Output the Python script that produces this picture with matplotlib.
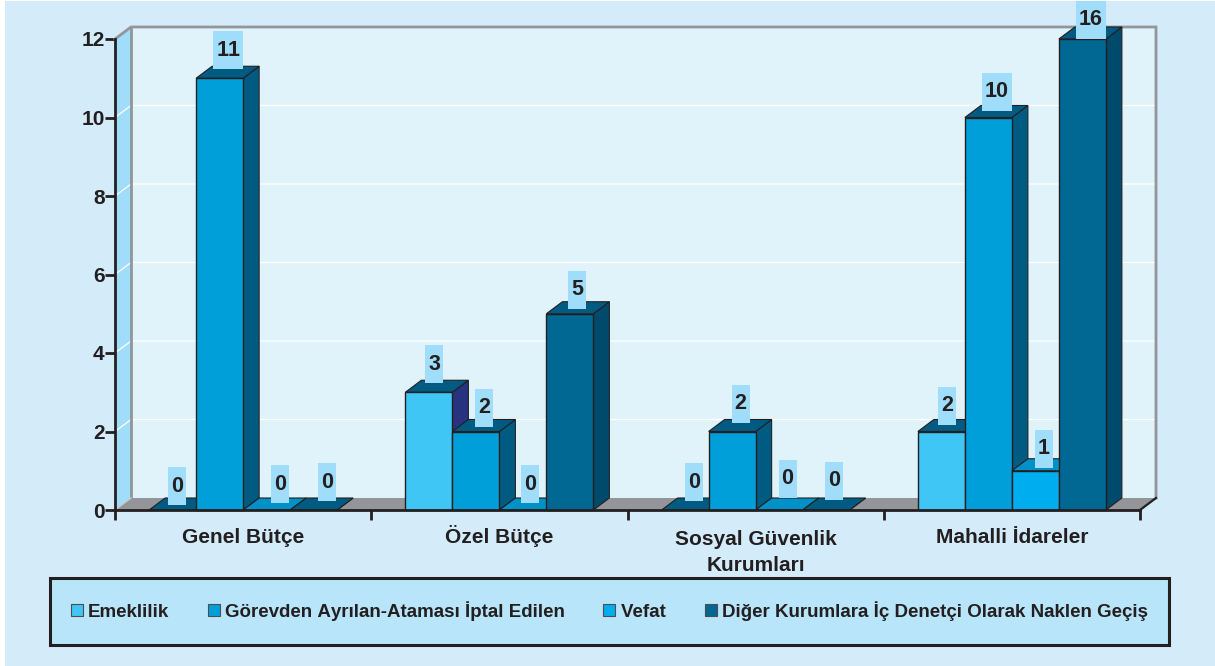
import matplotlib
matplotlib.use("Agg")
import matplotlib.pyplot as plt
from matplotlib.patches import Polygon, Rectangle

plt.rcParams['font.family'] = ['Liberation Sans', 'DejaVu Sans']
plt.rcParams['text.kerning_factor'] = 6

# Veriler
categories = ["Genel Bütçe", "Özel Bütçe", "Sosyal Güvenlik\nKurumları", "Mahalli İdareler"]
series_names = ["Emeklilik", "Görevden Ayrılan-Ataması İptal Edilen", "Vefat",
                "Diğer Kurumlara İç Denetçi Olarak Naklen Geçiş"]
emeklilik = [0, 3, 0, 2]
gorevden = [11, 2, 2, 10]
vefat = [0, 0, 0, 1]
diger = [0, 5, 0, 16]
y_ticks = [0, 2, 4, 6, 8, 10, 12]
Y_MAX = 12

# Renkler
front_colors = ["#3FC6F4", "#009FDA", "#00AEEF", "#006892"]
side_colors = ["#27337F", "#005B82", "#005B82", "#004B6B"]
top_colors = ["#005B82", "#005B82", "#0091C9", "#005B82"]
INK = "#231F20"
LABEL_BG = "#9FDDFA"
GREY = "#939598"

# Eksen alani, piksel olarak
W, H = 1215, 666
LEFT, RIGHT, TOP, BOTTOM = 115, 1140, 39, 510
xu = 4 / (RIGHT - LEFT)
yu = Y_MAX / (BOTTOM - TOP)
DX = 16 * xu
DY = 12 * yu
BAR_W = 47 * xu

# Etiketlerin elle kaydirilmasi (piksel), seri -> kategori
label_dx = [[4.5, 5.5, 8.5, 5.5],
            [8.5, 8.5, 8.5, 8.5],
            [13.5, 7.5, 8.5, 8.5],
            [13.5, 7.5, 7.5, 8.5]]
label_dy = [[24, 28, 28, 26],
            [28, 24, 28, 26],
            [26, 26, 31, 22],
            [28, 24, 29, 19]]

fig = plt.figure(figsize=(W / 100, H / 100), dpi=100, facecolor="white")
fig.patches.append(Rectangle((5 / W, 0), 1 - 5 / W, 1 - 1 / H, transform=fig.transFigure,
                             facecolor="#D4ECFA", edgecolor="none", zorder=-10))
ax = fig.add_axes([LEFT / W, 1 - BOTTOM / H, (RIGHT - LEFT) / W, (BOTTOM - TOP) / H])
ax.patch.set_visible(False)
ax.set_xlim(0, 4)
ax.set_ylim(0, Y_MAX)


def poly(pts, fc, ec="none", lw=0, z=1):
    ax.add_patch(Polygon(pts, closed=True, facecolor=fc, edgecolor=ec, linewidth=lw,
                         clip_on=False, zorder=z, joinstyle="miter"))


# Duvarlar ve taban
poly([(DX, DY), (4 + DX, DY), (4 + DX, Y_MAX + DY), (DX, Y_MAX + DY)], "#E0F3FB")
poly([(0, 0), (DX, DY), (DX, Y_MAX + DY), (0, Y_MAX)], LABEL_BG)
poly([(0, 0), (4, 0), (4 + DX, DY), (DX, DY)], GREY)
for t in y_ticks[1:-1]:
    ax.plot([0, DX, 4 + DX], [t, t + DY, t + DY], color="white", lw=0.9, clip_on=False, zorder=1.5)
ax.plot([0, DX, 4 + DX, 4 + DX], [Y_MAX, Y_MAX + DY, Y_MAX + DY, DY], color=GREY, lw=2,
        clip_on=False, zorder=1.6, solid_joinstyle="miter")
ax.plot([DX, DX], [DY, Y_MAX + DY], color=GREY, lw=2, clip_on=False, zorder=1.6)
ax.plot([0, DX], [0, DY], color="#C8CACC", lw=1, clip_on=False, zorder=1.6)
ax.plot([4, 4 + DX], [0, DY], color=INK, lw=1.6, clip_on=False, zorder=1.6)

# Cubuklar
values = [emeklilik, gorevden, vefat, diger]
z = 2
for c in range(len(categories)):
    for s, vals in enumerate(values):
        v = min(vals[c], Y_MAX)
        x0 = c + 0.5 + (s - 2) * BAR_W
        x1 = x0 + BAR_W
        poly([(x1, 0), (x1 + DX, DY), (x1 + DX, v + DY), (x1, v)], side_colors[s], INK, 0.8, z)
        poly([(x0, v), (x1, v), (x1 + DX, v + DY), (x0 + DX, v + DY)], top_colors[s], INK, 0.8, z)
        if v > 0:
            ax.bar(x0, v, width=BAR_W, align="edge", color=front_colors[s], edgecolor=INK,
                   linewidth=1.0, zorder=z + 0.1, clip_on=False)
        z += 0.2

# Deger etiketleri
for c in range(len(categories)):
    for s, vals in enumerate(values):
        v = min(vals[c], Y_MAX)
        xc = c + 0.5 + (s - 2) * BAR_W + BAR_W / 2 + label_dx[s][c] * xu
        yc = v + label_dy[s][c] * yu
        txt = str(vals[c])
        bw = (30 if len(txt) > 1 else 18) * xu
        bh = 38 * yu
        ax.add_patch(Rectangle((xc - bw / 2, yc - bh / 2), bw, bh, facecolor=LABEL_BG,
                               edgecolor="none", clip_on=False, zorder=20))
        ax.text(xc, yc, txt, ha="center", va="center", fontsize=15.5, fontweight="bold",
                color=INK, zorder=21, clip_on=False)

# Eksenler
for side in ("top", "right"):
    ax.spines[side].set_visible(False)
for side in ("left", "bottom"):
    ax.spines[side].set_linewidth(2)
    ax.spines[side].set_color(INK)
    ax.spines[side].set_zorder(15)
ax.set_yticks(y_ticks)
ax.set_yticklabels([str(t) for t in y_ticks], fontsize=15, fontweight="bold", color=INK)
ax.tick_params(axis="y", length=7.5, width=2, color=INK, pad=0)
ax.set_xticks(range(len(categories) + 1))
ax.set_xticklabels([])
ax.tick_params(axis="x", which="major", length=7.5, width=2, color=INK)
ax.set_xticks([i + 0.5 for i in range(len(categories))], minor=True)
xlabels = ax.set_xticklabels(categories, minor=True, fontsize=15, fontweight="bold", color=INK,
                             linespacing=1.5)
ax.tick_params(axis="x", which="minor", length=0, pad=24)
for lab in xlabels:
    lab.set_verticalalignment("baseline")
# iki satirli etiket alt satirindan hizalaniyor
ax.xaxis.get_minor_ticks()[2].set_pad(44)

# Lejant
fig.patches.append(Rectangle((50 / W, 1 - 645 / H), 1119 / W, 67 / H, transform=fig.transFigure,
                             facecolor="#B8E5FA", edgecolor=INK, linewidth=2.2, zorder=-5))
handles = [Rectangle((0, 0), 1, 1, facecolor=col, edgecolor="#4D4D4F", linewidth=0.8)
           for col in front_colors]
leg = fig.legend(handles, series_names, loc="center", bbox_to_anchor=(609.5 / W, 1 - 611 / H),
                 ncol=4, frameon=False, prop={"weight": "bold", "size": 13.5},
                 handlelength=0.64, handleheight=0.64, handletextpad=0.27, columnspacing=2.06,
                 borderpad=0, borderaxespad=0)
for t in leg.get_texts():
    t.set_color(INK)

fig.savefig("out.png", dpi=100, facecolor=fig.get_facecolor())
